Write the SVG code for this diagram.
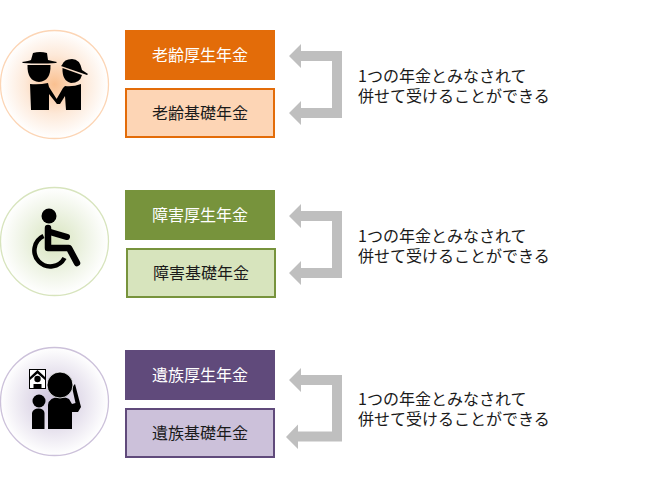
<svg xmlns="http://www.w3.org/2000/svg" width="648" height="480" viewBox="0 0 648 480">
<defs>
<radialGradient id="go"><stop offset="0" stop-color="#fac090"/><stop offset="0.55" stop-color="#fde9d9"/><stop offset="1" stop-color="#ffffff"/></radialGradient>
<radialGradient id="gg"><stop offset="0" stop-color="#d7e4bd"/><stop offset="0.6" stop-color="#eff4e6"/><stop offset="1" stop-color="#ffffff"/></radialGradient>
<radialGradient id="gp"><stop offset="0" stop-color="#ccc1da"/><stop offset="0.6" stop-color="#eae6f0"/><stop offset="1" stop-color="#ffffff"/></radialGradient>
</defs>
<style>
text{font-family:"Noto Sans CJK JP","Liberation Sans",sans-serif;font-size:16px;fill:#1a1a1a}
.c{text-anchor:middle}
.w{fill:#ffffff}
.a{fill:#bfbfbf}
.limb{fill:none;stroke:#000;stroke-linecap:round;stroke-linejoin:round}
</style>
<rect width="648" height="480" fill="#ffffff"/>
<g id="connectors">
<path class="a" d="M289 56 L301 44 V51 H342 V118 H301 V125 L289 113 L301 101 V108 H332 V61 H301 V68Z"/>
<path class="a" d="M289 216 L301 204 V211 H342 V278 H301 V285 L289 273 L301 261 V268 H332 V221 H301 V228Z"/>
<path class="a" d="M289 380 L301 368 V375 H342 V441.500 H298 V449 L286 437 L298 424.500 V431.500 H332 V385 H301 V392Z"/>
</g>
<g id="icon-old">
<circle cx="54.500" cy="84.500" r="54" fill="url(#go)" stroke="#fcd5b5" stroke-width="1.300"/>
<path d="M22 62 Q29 61 31 60 L33 53 Q40 51 47 53 L48 60 Q52 61 57 62 L56 63 Q40 64 23 63Z"/>
<path d="M27.500 65 H50.500 Q51 81 39 82 Q27 81 27.500 65Z"/>
<path d="M30 84 Q39 85 48 83 L49 87 L56 98 L60 103 L57 104 L49 94 V110 H31Z"/>
<path d="M62 65 Q64 59 72 59 Q80 59 82 70 L88 74 L87 75 L61 66Z"/>
<path d="M62.500 68 L82 75 Q80 83 71 83 Q62 81 62.500 68Z"/>
<path d="M65 86 Q73 87 81 84 L81 110 H66 L65 96 L60 104 L57 104 L56 100 L63 88Z"/>
</g>
<g id="icon-disabled">
<circle cx="54.500" cy="241.500" r="54" fill="url(#gg)" stroke="#d7e4bd" stroke-width="1.300"/>
<circle cx="49" cy="216" r="7.500"/>
<path class="limb" stroke-width="6.500" d="M48 228 V248 H69 L77 263"/>
<path class="limb" stroke-width="6" d="M50 232 L67 237"/>
<path d="M43.500 236 A16 16 0 1 0 64.500 258" fill="none" stroke="#000" stroke-width="4.500"/>
</g>
<g id="icon-bereaved">
<circle cx="54.500" cy="401.500" r="54" fill="url(#gp)" stroke="#ccc1da" stroke-width="1.300"/>
<rect x="29.500" y="369.500" width="16" height="19" fill="#fff" stroke="#000" stroke-width="1"/>
<path d="M30 377 L37.500 370 L45 377 V380 L37.500 373.500 L30 380Z"/>
<circle cx="37.500" cy="379" r="3.200"/><path d="M33.500 388 V384 H41.500 V388Z"/>
<path d="M48 429 V405 Q49 397 60 397 Q66 397 69 399 L72 404 L75.500 403 L72 387 L75 384 L81 407 L78 412 L72 412 V429Z"/>
<circle cx="60" cy="385" r="13" stroke="#fff" stroke-width="0.800"/>
<circle cx="39" cy="401" r="6.500"/>
<path d="M32 429 V413 Q33 408.500 38.500 408.500 Q44 408.500 44.500 413 V429Z"/>
</g>
<g id="box-old-1"><rect x="125" y="30" width="150" height="50" fill="#e36c09"/><text class="c w" x="200" y="61">老齢厚生年金</text></g>
<g id="box-old-2"><rect x="126" y="89" width="148" height="48" fill="#fdd5b5" stroke="#e36c09" stroke-width="2"/><text class="c" x="200" y="119">老齢基礎年金</text></g>
<g id="box-dis-1"><rect x="125" y="190" width="150" height="50" fill="#77933c"/><text class="c w" x="200" y="221">障害厚生年金</text></g>
<g id="box-dis-2"><rect x="127" y="249" width="148" height="48" fill="#d7e4bd" stroke="#77933c" stroke-width="2"/><text class="c" x="201" y="279">障害基礎年金</text></g>
<g id="box-ber-1"><rect x="125" y="350" width="150" height="50" fill="#604a7b"/><text class="c w" x="200" y="381">遺族厚生年金</text></g>
<g id="box-ber-2"><rect x="126" y="409" width="148" height="48" fill="#ccc1da" stroke="#604a7b" stroke-width="2"/><text class="c" x="200" y="439">遺族基礎年金</text></g>
<g id="note-1"><text x="358" y="82">1つの年金とみなされて<tspan x="358" y="102">併せて受けることができる</tspan></text></g>
<g id="note-2"><text x="358" y="242">1つの年金とみなされて<tspan x="358" y="262">併せて受けることができる</tspan></text></g>
<g id="note-3"><text x="358" y="405">1つの年金とみなされて<tspan x="358" y="425">併せて受けることができる</tspan></text></g>
</svg>
